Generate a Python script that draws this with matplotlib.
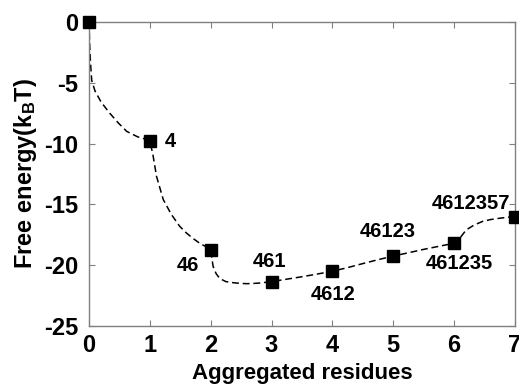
import matplotlib
matplotlib.use("Agg")
import matplotlib.pyplot as plt

plt.rcParams['font.family'] = ['Liberation Sans', 'DejaVu Sans']
plt.rcParams['font.weight'] = 'bold'
plt.rcParams['axes.unicode_minus'] = False
plt.rcParams['mathtext.fontset'] = 'custom'
plt.rcParams['mathtext.rm'] = 'Liberation Sans:bold'
plt.rcParams['mathtext.it'] = 'Liberation Sans:bold'
plt.rcParams['mathtext.bf'] = 'Liberation Sans:bold'

# data points
x_pts = [0, 1, 2, 3, 4, 5, 6, 7]
y_pts = [0.0, -9.8, -18.75, -21.35, -20.5, -19.25, -18.2, -16.0]
labels = ['', '4', '46', '461', '4612', '46123', '461235', '4612357']
label_x = [None, 1.34, 1.63, 2.96, 4.01, 4.91, 6.09, 6.28]
label_y = [None, -9.8, -20.0, -19.7, -22.45, -17.25, -19.85, -14.9]

# dashed fitted curve
curve_x = [0.0, 0.01, 0.025, 0.044, 0.1, 0.2, 0.34, 0.48, 0.62, 0.8, 0.97, 1.0,
           1.05, 1.11, 1.22, 1.35, 1.49, 1.6, 1.71, 1.82, 1.93, 2.0,
           2.04, 2.09, 2.15, 2.25, 2.37, 2.5, 2.6, 2.7, 2.8, 2.92, 3.0,
           3.25, 3.5, 3.75, 4.0, 4.25, 4.5, 4.75, 5.0, 5.25, 5.5, 5.75, 6.0,
           6.1, 6.2, 6.33, 6.47, 6.6, 6.75, 6.9, 7.0]
curve_y = [0.0, -1.8, -3.4, -4.8, -5.7, -6.6, -7.5, -8.3, -9.0, -9.45, -9.7, -9.8,
           -10.9, -12.7, -14.6, -15.8, -16.8, -17.35, -17.8, -18.2, -18.5, -18.75,
           -20.1, -20.7, -21.1, -21.35, -21.44, -21.5, -21.52, -21.5, -21.47, -21.4, -21.35,
           -21.15, -20.95, -20.73, -20.5, -20.2, -19.87, -19.55, -19.25, -18.98, -18.7, -18.45, -18.2,
           -17.75, -17.1, -16.7, -16.4, -16.25, -16.14, -16.05, -16.0]

fig = plt.figure(figsize=(5.19, 3.84), dpi=100)
ax = fig.add_axes([0.1715, 0.151, 0.8205, 0.792])

ax.plot(curve_x, curve_y, color='black', linestyle=(0, (4.5, 2.5)), linewidth=1.1, zorder=2)
ax.plot(x_pts, y_pts, linestyle='none', marker='s', markersize=8, color='black', zorder=3,
        clip_on=False)

for lx, ly, t in zip(label_x, label_y, labels):
    if t:
        ax.text(lx, ly, t, ha='center', va='center', fontsize=14.5, fontweight='bold')

ax.set_xlim(0, 7)
ax.set_ylim(-25, 0)
ax.set_xticks(range(0, 8))
ax.set_yticks([-25, -20, -15, -10, -5, 0])
ax.tick_params(direction='in', top=True, right=True, length=4, width=0.8, color='#808080',
               labelsize=17)
ax.tick_params(axis='x', pad=6)
ax.tick_params(axis='y', pad=8)
for sp in ax.spines.values():
    sp.set_color('#808080')
    sp.set_linewidth(1.0)

ax.set_xlabel('Aggregated residues', fontsize=16, fontweight='bold', labelpad=4)
ax.set_ylabel('Free energy(k$_{B}$T)', fontsize=17, fontweight='bold', labelpad=3)

fig.savefig('out.png', dpi=100)
